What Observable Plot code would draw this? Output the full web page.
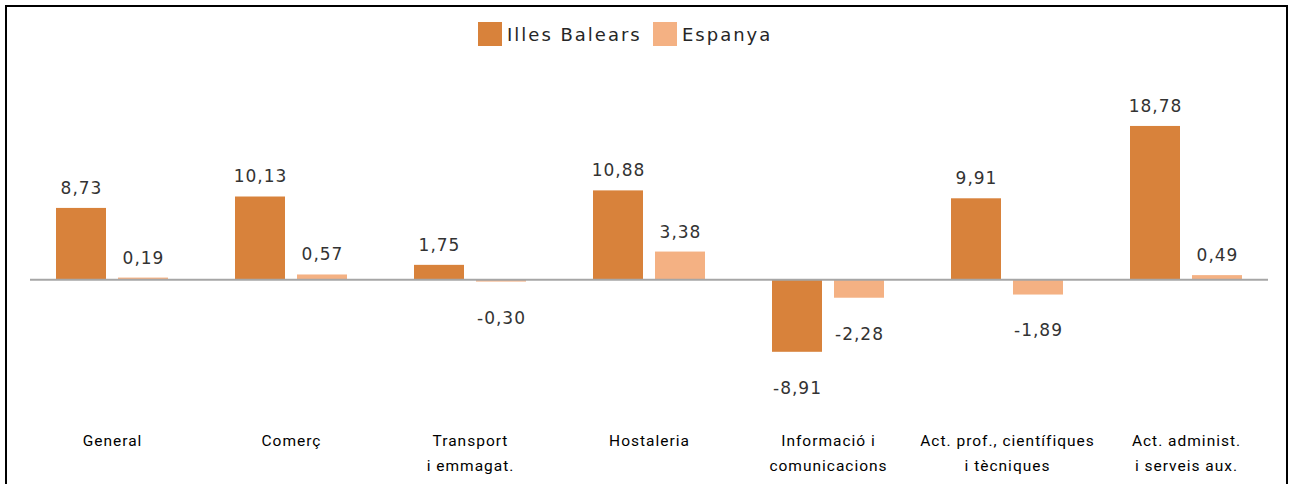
<!DOCTYPE html>
<html>
<head>
<meta charset="utf-8">
<script src="https://cdn.jsdelivr.net/npm/d3@7"></script>
<script src="https://cdn.jsdelivr.net/npm/@observablehq/plot@0.6"></script>
<style>
  html, body { margin: 0; padding: 0; background: #fff; overflow: hidden; }
  #wrap { position: relative; width: 1290px; height: 484px; overflow: hidden; }
  #border { position: absolute; left: 5px; top: 5px; width: 1279px; height: 500px; border: 2px solid #000; box-sizing: content-box; pointer-events: none; }
  #legend { position: relative; height: 60px; }
  .item { position: absolute; top: 22px; display: flex; align-items: center; font-family: "DejaVu Sans", sans-serif; font-size: 18px; letter-spacing: 2px; color: #262626; }
  .sw { width: 24px; height: 24px; margin-right: 5px; }
  #chart svg { display: block; }
</style>
</head>
<body>
<div id="wrap">
  <div id="legend"></div>
  <div id="chart"></div>
  <div id="border"></div>
</div>
<script>
const categories = ["General", "Comerç", "Transport\ni emmagat.", "Hostaleria", "Informació i\ncomunicacions", "Act. prof., científiques\ni tècniques", "Act. administ.\ni serveis aux."];
const series = ["Illes Balears", "Espanya"];
const balears = [8.73, 10.13, 1.75, 10.88, -8.91, 9.91, 18.78];
const espanya = [0.19, 0.57, -0.30, 3.38, -2.28, -1.89, 0.49];
const colors = ["#D8823B", "#F4B183"];

const dataB = categories.map((c, i) => ({cat: c, series: series[0], value: balears[i]}));
const dataE = categories.map((c, i) => ({cat: c, series: series[1], value: espanya[i]}));
const fmt = v => v.toFixed(2).replace(".", ",");

// legend
const legend = document.getElementById("legend");
const legendLeft = [478, 653];
series.forEach((s, i) => {
  const it = document.createElement("div");
  it.className = "item";
  it.style.left = legendLeft[i] + "px";
  it.innerHTML = `<span class="sw" style="background:${colors[i]}"></span><span>${s}</span>`;
  legend.appendChild(it);
});

const textStyle = {fontFamily: "DejaVu Sans, sans-serif", fontSize: 17, fill: "#333333"};

const chart = Plot.plot({
  width: 1290,
  height: 424,
  marginLeft: 30,
  marginRight: 22,
  marginTop: 56,
  marginBottom: 107,
  x: {domain: categories, paddingInner: 0.375, paddingOuter: 0.1415, axis: null},
  y: {domain: [-12, 20], axis: null},
  color: {domain: series, range: colors},
  marks: [
    Plot.barY(dataB, {x: "cat", y: "value", fill: "series", insetRight: 62}),
    Plot.barY(dataE, {x: "cat", y: "value", fill: "series", insetLeft: 62}),
    Plot.ruleY([0], {stroke: "#A6A6A6", strokeWidth: 2}),
    Plot.text(dataB.filter(d => d.value >= 0), {x: "cat", y: "value", text: d => fmt(d.value), dx: -31, dy: -20, ...textStyle}),
    Plot.text(dataB.filter(d => d.value < 0), {x: "cat", y: "value", text: d => fmt(d.value), dx: -31, dy: 36, ...textStyle}),
    Plot.text(dataE.filter(d => d.value >= 0), {x: "cat", y: "value", text: d => fmt(d.value), dx: 31, dy: -20, ...textStyle}),
    Plot.text(dataE.filter(d => d.value < 0), {x: "cat", y: "value", text: d => fmt(d.value), dx: 31, dy: 36, ...textStyle}),
    Plot.axisX({tickSize: 0, tickPadding: 51, label: null, lineHeight: 1.62, fontSize: 15.5, fontFamily: "Roboto, sans-serif", fill: "#000"})
  ]
});
chart.style.letterSpacing = "1px";
document.getElementById("chart").appendChild(chart);
</script>
</body>
</html>
